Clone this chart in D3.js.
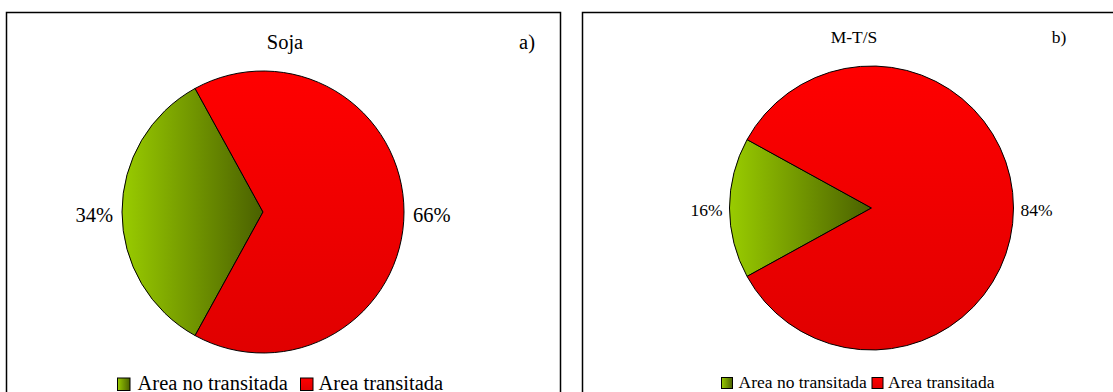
<!DOCTYPE html>
<html><head><meta charset="utf-8">
<script src="https://cdn.jsdelivr.net/npm/d3@7"></script>
<style>body{margin:0;background:#fff}svg{display:block}text{font-family:"Liberation Serif","Times New Roman",serif;fill:#000}</style>
</head><body>
<script>
const categories = ["Area no transitada", "Area transitada"];
const panelTitles = ["Soja", "M-T/S"];
const panelTags = ["a)", "b)"];
const sojaValues = [34, 66];
const mtsValues = [16, 84];

const W = 1113, H = 392;
const svg = d3.select("body").append("svg").attr("width", W).attr("height", H);
const defs = svg.append("defs");
const gG = defs.append("linearGradient").attr("id", "gGreen").attr("x1", 0).attr("x2", 1).attr("y1", 0).attr("y2", 0);
gG.append("stop").attr("offset", 0).attr("stop-color", "#99cc00");
gG.append("stop").attr("offset", 1).attr("stop-color", "#4a6000");
const gR = defs.append("linearGradient").attr("id", "gRed").attr("x1", 0).attr("x2", 0).attr("y1", 0).attr("y2", 1);
gR.append("stop").attr("offset", 0).attr("stop-color", "#ff0000");
gR.append("stop").attr("offset", 1).attr("stop-color", "#e00000");
const fills = ["url(#gGreen)", "url(#gRed)"];

const panels = [
  {vals: sojaValues, title: panelTitles[0], tag: panelTags[0], box: [6.5, 12.5, 554, 400],
   cx: 263, cy: 212, r: 141, fs: 20.5, titleX: 285, titleY: 49, tagX: 527,
   lab: 9, labY: 3, leg: {y: 378, sq: 12.5, x1: 117.5, t1: 137.5, x2: 300.5, t2: 318.5, base: 390}},
  {vals: mtsValues, title: panelTitles[1], tag: panelTags[1], box: [582.5, 12.5, 560, 400],
   cx: 871.5, cy: 208, r: 142, fs: 17.5, titleX: 854, titleY: 43, tagX: 1059,
   lab: 7, labY: 2, leg: {y: 377.5, sq: 11, x1: 721.5, t1: 738.5, x2: 872, t2: 888, base: 388}}
];

panels.forEach(p => {
  const g = svg.append("g");
  g.append("rect").attr("x", p.box[0]).attr("y", p.box[1]).attr("width", p.box[2]).attr("height", p.box[3])
    .attr("fill", "#fff").attr("stroke", "#000").attr("stroke-width", 1.5);
  g.append("text").attr("x", p.titleX).attr("y", p.titleY).attr("text-anchor", "middle").attr("font-size", p.fs).text(p.title);
  g.append("text").attr("x", p.tagX).attr("y", p.titleY).attr("text-anchor", "middle").attr("font-size", p.fs).text(p.tag);

  const total = d3.sum(p.vals);
  const start = -Math.PI / 2 - (p.vals[0] / total) * Math.PI;
  const pie = d3.pie().sort(null).startAngle(start).endAngle(start + 2 * Math.PI);
  const arcs = pie(p.vals);
  const arc = d3.arc().innerRadius(0).outerRadius(p.r);
  const pg = g.append("g").attr("transform", `translate(${p.cx},${p.cy})`);
  pg.selectAll("path").data(arcs).join("path")
    .attr("d", arc).attr("fill", (d, i) => fills[i]).attr("stroke", "#000").attr("stroke-width", 1).attr("stroke-linejoin", "round");

  arcs.forEach((d, i) => {
    const mid = (d.startAngle + d.endAngle) / 2;
    const x = Math.sin(mid) * (p.r + p.lab);
    const y = -Math.cos(mid) * (p.r + p.lab) + p.labY;
    pg.append("text").attr("x", x).attr("y", y).attr("dominant-baseline", "central")
      .attr("text-anchor", Math.sin(mid) < 0 ? "end" : "start").attr("font-size", p.fs)
      .text(Math.round(d.value / total * 100) + "%");
  });

  const L = p.leg;
  [[L.x1, L.t1], [L.x2, L.t2]].forEach((pos, i) => {
    g.append("rect").attr("x", pos[0]).attr("y", L.y).attr("width", L.sq).attr("height", L.sq)
      .attr("fill", fills[i]).attr("stroke", "#000").attr("stroke-width", 1);
    g.append("text").attr("x", pos[1]).attr("y", L.base).attr("font-size", p.fs).text(categories[i]);
  });
});
</script>
</body></html>
